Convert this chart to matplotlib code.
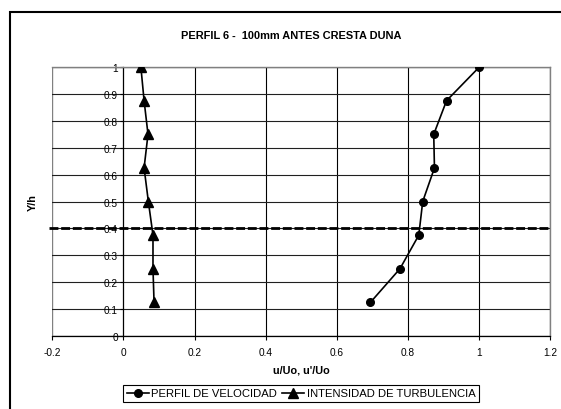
import numpy as np
import matplotlib
matplotlib.use("Agg")
import matplotlib.pyplot as plt
from matplotlib.patches import Rectangle

plt.rcParams['font.family'] = ['Liberation Sans', 'DejaVu Sans']

# data
y_h = [0.125, 0.25, 0.375, 0.5, 0.625, 0.75, 0.875, 1.0]
velocidad = [0.694, 0.777, 0.830, 0.841, 0.874, 0.872, 0.908, 1.0]
turbulencia = [0.086, 0.083, 0.083, 0.070, 0.058, 0.069, 0.058, 0.049]
x_ticks = [-0.2, 0, 0.2, 0.4, 0.6, 0.8, 1, 1.2]
y_ticks = [0, 0.1, 0.2, 0.3, 0.4, 0.5, 0.6, 0.7, 0.8, 0.9, 1]
dash_y = 0.403
dash_x = [-0.209, 1.2]

fig = plt.figure(figsize=(5.61, 4.10), dpi=100)
ax = fig.add_axes([0.0932, 0.178, 0.888, 0.656])

# chart area border (runs past the right and bottom edges in the original)
fig.patches.append(Rectangle((9.7 / 561, -0.1), 1.2, (410 - 13.3) / 410 + 0.1,
                             transform=fig.transFigure, fill=False,
                             edgecolor='black', linewidth=1.5))

ax.set_xlim(-0.2, 1.2)
ax.set_ylim(0, 1)

# gridlines
for xv in x_ticks[2:-1]:
    ax.axvline(xv, color='black', linewidth=0.8, zorder=1)
for yv in y_ticks[1:-1]:
    ax.axhline(yv, color='#202020', linewidth=0.8, zorder=1)

# plot area border in gray, axes lines in black
for s in ['top', 'right']:
    ax.spines[s].set_color('#808080')
    ax.spines[s].set_linewidth(1.0)
ax.spines['left'].set_position(('data', 0))
ax.spines['left'].set_color('black')
ax.spines['left'].set_linewidth(0.9)
ax.spines['bottom'].set_color('black')
ax.spines['bottom'].set_linewidth(0.9)
ax.add_patch(Rectangle((0, 0), 1, 1, transform=ax.transAxes, fill=False,
                       edgecolor='#808080', linewidth=1.0, zorder=0.5))

ax.plot(velocidad, y_h, color='black', linewidth=1.2, marker='o',
        markersize=5.5, label='PERFIL DE VELOCIDAD', zorder=4)
ax.plot(turbulencia, y_h, color='black', linewidth=1.2, marker='^',
        markersize=6.5, label='INTENSIDAD DE TURBULENCIA', zorder=4)

ax.plot(dash_x, [dash_y, dash_y], color='black', linewidth=2.0,
        linestyle=(0, (3.2, 1.0)), clip_on=False, zorder=5)

ax.set_xticks(x_ticks)
ax.set_xticklabels(['-0.2', '0', '0.2', '0.4', '0.6', '0.8', '1', '1.2'])
ax.set_yticks(y_ticks)
ax.set_yticklabels(['0', '0.1', '0.2', '0.3', '0.4', '0.5', '0.6', '0.7',
                    '0.8', '0.9', '1'])
ax.tick_params(axis='x', direction='out', length=3, width=0.8, pad=5,
               labelsize=7.3)
ax.tick_params(axis='y', direction='out', length=2.5, width=0.8, pad=1.5,
               labelsize=7.3)

ax.set_xlabel("u/Uo, u'/Uo", fontsize=7.8, fontweight='bold')
ax.xaxis.label.set_va('center')
ax.xaxis.set_label_coords(0.5, -0.1227)
ax.set_ylabel('Y/h', fontsize=7.8, fontweight='bold')
ax.yaxis.label.set_va('center')
ax.yaxis.set_label_coords(-0.0387, 0.5)

fig.text(290.8 / 561, 1 - 35.7 / 410, 'PERFIL 6 -  100mm ANTES CRESTA DUNA',
         fontsize=7.9, fontweight='bold', ha='center', va='center')

leg = fig.legend(loc='center', bbox_to_anchor=(301 / 561, 15.5 / 410), ncol=2,
                 fontsize=8.1, frameon=True, fancybox=False, framealpha=1,
                 edgecolor='black', handlelength=2.0, handletextpad=0.2,
                 columnspacing=0.4, borderpad=0.3, borderaxespad=0)
leg.get_frame().set_linewidth(0.8)

fig.savefig('out.png', dpi=100)
